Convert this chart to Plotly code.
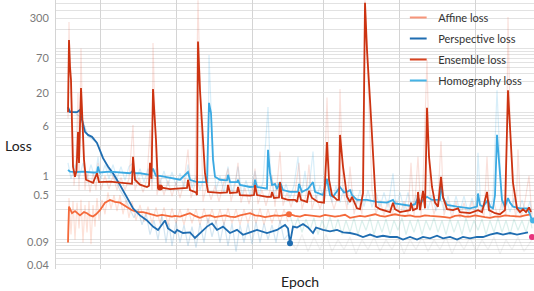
import plotly.graph_objects as go

# ---------------- data (x = training step, y = loss) ----------------
ENS_X = [12, 13, 14, 15, 17, 19, 20.5, 22, 23, 25, 26, 28, 30, 37, 41, 43, 54, 67, 76, 77, 79, 84, 91, 93, 94,
         95.5, 97, 98.5, 100, 102, 114, 131, 132, 134, 140, 141, 142, 144, 146, 149, 152, 164, 171, 172, 174, 181,
         182, 184, 194, 198, 199, 201, 211, 215, 216, 218, 223, 224, 226, 232, 239, 241, 243, 245, 251, 253, 256,
         262, 268, 271, 273, 276, 281, 283, 284, 287, 291, 294, 296, 301, 304, 306, 307, 309, 311, 314, 317, 320,
         324, 334, 337, 339, 344, 354, 355, 357, 361, 362, 364, 367, 369, 371, 373, 376, 379, 382, 385, 387, 391,
         397, 402, 404, 414, 422, 426, 431, 433, 439, 444, 449, 452, 454, 457, 461, 464, 467, 470, 473, 475]
ENS_Y = [10, 136, 52, 32, 1.4, 0.97, 1.2, 4.9, 1.6, 24, 10.9, 1.8, 0.87, 0.78, 1.1, 0.80, 0.81, 0.78, 0.75, 2.0,
         0.87, 0.73, 0.67, 0.7, 1.6, 0.9, 23, 9, 3.7, 0.67, 0.62, 0.65, 0.87, 0.6, 0.55, 0.5, 128, 22, 5.9, 1.1,
         0.56, 0.54, 0.55, 0.72, 0.54, 0.55, 0.67, 0.5, 0.49, 0.5, 0.72, 0.5, 0.47, 0.47, 0.56, 0.45, 0.46, 0.8,
         0.45, 0.42, 0.42, 0.39, 0.56, 0.42, 0.39, 0.58, 0.45, 0.39, 0.38, 3.4, 0.87, 0.5, 0.42, 0.42, 4.4, 1.4,
         0.47, 0.39, 0.47, 0.31, 0.3, 0.42, 0.53, 520, 95, 15.6, 1.8, 0.33, 0.3, 0.27, 0.38, 0.3, 0.27, 0.29, 0.38,
         0.29, 0.31, 0.56, 0.29, 0.58, 0.31, 11.7, 2.0, 0.67, 0.38, 0.33, 0.97, 0.47, 0.3, 0.29, 0.31, 0.27, 0.26,
         0.29, 0.27, 0.56, 0.29, 0.26, 0.25, 0.29, 22, 4.7, 0.78, 0.31, 0.27, 0.3, 0.27, 0.32, 0.27]

HOM_X = [12, 14, 21, 27, 37, 41, 42, 43.5, 54, 64, 74, 77, 79, 84, 94, 97, 100, 104, 114, 124, 132, 134, 141, 151,
         153, 155, 157, 159, 164, 171, 172, 174, 181, 182, 184, 194, 198, 199, 201, 211, 212, 214, 216, 219, 221,
         224, 227, 234, 242, 243, 246, 252, 257, 259, 267, 271, 274, 277, 284, 288, 291, 294, 296, 301, 311, 321,
         331, 337, 339, 344, 354, 359, 362, 365, 367, 371, 376, 384, 385, 387, 391, 401, 414, 421, 422, 424, 427,
         432, 434, 437, 439, 441, 443, 446, 449, 452, 454, 457, 464, 471, 474, 476]
HOM_Y = [1.24, 1.17, 1.15, 1.17, 1.13, 1.13, 1.4, 1.13, 1.17, 1.13, 1.1, 1.2, 1.1, 1.1, 1.04, 1.3, 1.0, 1.0, 0.93,
         0.87, 1.15, 0.87, 0.8, 0.8, 14, 9.7, 1.8, 0.97, 0.87, 0.85, 1.04, 0.8, 0.8, 0.87, 0.72, 0.67, 0.68, 0.87,
         0.67, 0.63, 2.56, 1.1, 0.72, 0.75, 0.62, 0.8, 0.6, 0.56, 0.56, 0.75, 0.56, 0.63, 0.8, 0.56, 0.5, 0.9, 0.5,
         0.47, 0.67, 0.55, 0.56, 0.6, 0.5, 0.42, 0.42, 0.39, 0.38, 0.42, 0.37, 0.36, 0.34, 0.36, 0.45, 0.38, 0.42,
         0.47, 0.42, 0.42, 0.8, 0.45, 0.35, 0.33, 0.31, 0.33, 0.53, 0.35, 0.33, 0.42, 0.33, 0.31, 0.5, 4.4, 1.8,
         0.42, 0.33, 0.45, 0.38, 0.33, 0.31, 0.31, 0.25, 0.2]

AFF_X = [12, 13, 16, 19, 24, 28, 31, 34, 37, 40, 44, 49, 54, 59, 64, 68, 71, 76, 82, 87, 91, 96, 101, 106, 111,
         116, 119, 124, 129, 134, 139, 144, 149, 154, 159, 164, 169, 174, 179, 184, 189, 194, 199, 204, 209, 214,
         219, 224, 229, 234, 239, 244, 249, 254, 259, 264, 269, 274, 279, 284, 289, 294, 299, 304, 309, 314, 319,
         324, 329, 334, 339, 344, 349, 354, 359, 364, 369, 374, 379, 384, 389, 394, 399, 404, 409, 414, 419, 424,
         429, 434, 439, 444, 449, 454, 459, 464, 469, 475]
AFF_Y = [0.09, 0.33, 0.26, 0.28, 0.24, 0.27, 0.26, 0.24, 0.23, 0.25, 0.29, 0.38, 0.42, 0.39, 0.38, 0.35, 0.33,
         0.29, 0.27, 0.27, 0.26, 0.25, 0.236, 0.245, 0.24, 0.23, 0.235, 0.23, 0.245, 0.26, 0.235, 0.22, 0.235,
         0.24, 0.225, 0.23, 0.24, 0.23, 0.225, 0.24, 0.25, 0.26, 0.24, 0.236, 0.225, 0.23, 0.24, 0.236, 0.245,
         0.25, 0.235, 0.23, 0.245, 0.24, 0.23, 0.23, 0.245, 0.24, 0.23, 0.236, 0.245, 0.22, 0.23, 0.235, 0.23,
         0.24, 0.25, 0.236, 0.23, 0.24, 0.25, 0.24, 0.235, 0.24, 0.23, 0.23, 0.24, 0.236, 0.23, 0.23, 0.225, 0.22,
         0.235, 0.24, 0.23, 0.23, 0.24, 0.23, 0.225, 0.22, 0.23, 0.23, 0.24, 0.235, 0.23, 0.23, 0.24, 0.25]

PER_X = [12, 14, 21, 24, 26, 29, 32, 36, 41, 44, 47, 52, 57, 64, 71, 77, 84, 91, 97, 102, 109, 112, 119, 121,
         127, 134, 139, 144, 151, 156, 161, 167, 174, 181, 187, 194, 201, 211, 221, 229, 232, 234, 237, 241, 247,
         252, 257, 260, 267, 274, 281, 287, 294, 301, 307, 314, 321, 327, 334, 341, 347, 354, 361, 367, 374, 381,
         387, 394, 401, 407, 414, 421, 427, 434, 441, 447, 454, 461, 467, 472]
PER_Y = [12, 10, 10, 10.9, 7.6, 4.9, 4.4, 4.1, 3.3, 2.56, 1.9, 1.4, 1.1, 0.72, 0.47, 0.31, 0.24, 0.2, 0.16, 0.142,
         0.2, 0.15, 0.127, 0.142, 0.127, 0.13, 0.106, 0.127, 0.16, 0.18, 0.142, 0.16, 0.127, 0.142, 0.119, 0.13,
         0.142, 0.127, 0.142, 0.17, 0.15, 0.088, 0.16, 0.155, 0.176, 0.155, 0.127, 0.155, 0.142, 0.135, 0.142,
         0.13, 0.127, 0.12, 0.11, 0.12, 0.11, 0.115, 0.11, 0.11, 0.1, 0.11, 0.1, 0.11, 0.105, 0.115, 0.105, 0.11,
         0.1, 0.11, 0.105, 0.11, 0.11, 0.12, 0.127, 0.12, 0.127, 0.12, 0.127, 0.13]

# raw (unsmoothed) values, drawn faintly behind the smoothed curves
ENS_RAW_X = [12, 13, 14, 16, 18, 20, 22, 23, 25, 27, 29, 31, 34, 37, 40, 42, 45, 49, 53, 57, 61, 65, 69, 73, 77,
             79, 83, 87, 91, 94, 96, 97, 99, 101, 104, 108, 112, 116, 120, 124, 128, 132, 135, 139, 142, 144, 147,
             151, 155, 159, 163, 167, 172, 175, 179, 182, 185, 189, 193, 197, 199, 202, 206, 210, 214, 216, 219,
             224, 227, 231, 235, 239, 243, 246, 250, 253, 256, 260, 264, 268, 271, 274, 278, 282, 284, 287, 291,
             294, 298, 302, 306, 309, 312, 316, 320, 324, 328, 332, 336, 340, 344, 348, 352, 355, 358, 362, 365,
             367, 371, 374, 378, 382, 385, 388, 392, 396, 400, 404, 408, 412, 416, 420, 424, 428, 431, 434, 438,
             442, 446, 450, 452, 454, 457, 460, 462, 465, 469, 473, 476]
ENS_RAW_Y = [8, 260, 40, 12, 0.7, 1.6, 20, 0.6, 100, 3, 0.6, 1.2, 0.55, 1.1, 0.6, 1.6, 0.6, 1.0, 0.62, 1.0, 0.6,
             0.95, 0.6, 0.9, 6.3, 0.6, 0.95, 0.55, 0.9, 5.3, 0.6, 122, 8, 0.5, 0.9, 0.5, 0.85, 0.48, 0.8, 0.45, 0.8,
             2.6, 0.45, 0.75, 570, 30, 0.4, 0.75, 0.42, 0.7, 0.4, 0.7, 1.3, 0.4, 0.7, 1.6, 0.38, 0.65, 0.36, 0.65,
             1.3, 0.36, 0.6, 0.34, 0.6, 1.0, 0.33, 2.4, 0.34, 0.55, 0.32, 0.55, 1.6, 0.3, 0.5, 1.5, 0.3, 0.5, 0.3,
             0.5, 17, 0.5, 0.3, 0.5, 23, 0.6, 0.3, 1.4, 0.25, 0.45, 0.25, 570, 40, 0.6, 0.25, 0.42, 0.24, 0.42,
             0.24, 0.42, 0.24, 0.4, 0.25, 1.6, 0.24, 2.0, 0.24, 0.8, 66, 0.5, 0.25, 0.42, 3.5, 0.24, 0.4, 0.22, 0.4,
             0.22, 0.38, 0.22, 0.4, 0.22, 0.38, 0.23, 2.0, 0.22, 0.38, 0.22, 0.4, 0.24, 310, 8, 0.4, 0.22, 2.6,
             0.22, 0.4, 1.0, 0.22]

HOM_RAW_X = [12, 15, 19, 23, 27, 31, 35, 39, 42, 45, 49, 53, 57, 61, 65, 69, 73, 77, 80, 84, 88, 92, 96, 100, 104,
             108, 112, 116, 120, 124, 128, 132, 136, 140, 144, 148, 152, 153, 155, 157, 160, 164, 168, 172, 176,
             180, 182, 186, 190, 194, 199, 203, 207, 212, 214, 218, 222, 226, 230, 234, 238, 242, 245, 249, 252,
             257, 260, 264, 268, 272, 276, 280, 284, 288, 292, 296, 300, 304, 308, 312, 316, 320, 324, 328, 332,
             337, 340, 344, 348, 352, 356, 360, 364, 368, 372, 376, 380, 384, 388, 392, 396, 400, 404, 408, 412,
             416, 420, 422, 425, 429, 433, 437, 441, 443, 446, 450, 454, 458, 462, 466, 470, 474, 476]
HOM_RAW_Y = [1.6, 0.9, 1.5, 0.9, 1.6, 0.9, 1.5, 0.9, 2.0, 0.9, 1.5, 0.9, 1.5, 0.9, 1.4, 0.85, 1.4, 1.6, 0.85,
             1.3, 0.8, 1.3, 0.8, 1.3, 0.75, 1.2, 0.7, 1.15, 0.7, 1.1, 0.65, 1.5, 0.65, 1.0, 0.6, 1.0, 0.6, 79, 12,
             2.5, 0.6, 1.0, 0.55, 1.4, 0.55, 0.9, 1.4, 0.5, 0.85, 0.5, 1.2, 0.5, 0.8, 12, 1.5, 0.5, 0.8, 0.45, 0.75,
             0.45, 0.7, 2.0, 0.42, 1.2, 0.45, 2.4, 0.42, 0.7, 0.4, 0.7, 0.38, 0.7, 0.38, 0.65, 0.35, 0.62, 0.34,
             0.6, 0.33, 0.6, 0.32, 0.55, 0.32, 0.55, 0.32, 1.1, 0.3, 0.55, 0.3, 0.55, 0.3, 0.5, 0.3, 0.5, 0.3, 0.5,
             0.28, 0.5, 0.28, 0.48, 0.27, 0.48, 0.28, 0.48, 0.27, 0.45, 0.28, 2.3, 0.28, 0.45, 0.27, 0.45, 22, 3,
             0.3, 0.45, 0.27, 0.45, 0.26, 0.42, 0.26, 0.4, 0.25]

PER_RAW_X = [12, 20, 26, 32, 40, 46, 52, 58, 64, 70, 74, 78, 82, 86, 90, 94, 98, 102, 106, 110, 113, 116, 120,
             124, 128, 132, 136, 140, 144, 148, 152, 156, 160, 164, 168, 172, 176, 180, 184, 188, 192, 196, 200,
             204, 208, 212, 216, 220, 224, 228, 232]
PER_RAW_Y = [11, 9.5, 8, 4.2, 3.4, 2.2, 1.3, 0.95, 0.6, 0.42, 0.3, 0.22, 0.3, 0.17, 0.26, 0.12, 0.2, 0.1, 0.24,
             0.09, 0.18, 0.08, 0.19, 0.09, 0.17, 0.08, 0.16, 0.075, 0.18, 0.09, 0.22, 0.11, 0.2, 0.09, 0.19, 0.08,
             0.18, 0.065, 0.17, 0.09, 0.18, 0.085, 0.19, 0.09, 0.18, 0.1, 0.17, 0.09, 0.2, 0.1, 0.12]

AFF_RAW_X = [12, 13, 15, 17, 19, 21, 23, 25, 27, 29, 31, 33, 35, 37, 39, 41, 43, 46, 49, 52, 55, 58, 61, 64, 67,
             70, 73, 76, 80, 84, 88, 92, 96, 100, 104, 108, 112, 116, 120, 124, 128, 132, 136, 140, 144, 148, 152,
             156, 160, 164, 168, 172, 176, 180, 184, 188, 192, 196, 200, 204, 208, 212, 216, 220, 224, 228, 232]
AFF_RAW_Y = [0.09, 0.45, 0.12, 0.4, 0.1, 0.38, 0.15, 0.42, 0.09, 0.35, 0.13, 0.4, 0.085, 0.35, 0.16, 0.45, 0.2,
             0.42, 0.25, 0.55, 0.3, 0.5, 0.28, 0.5, 0.25, 0.42, 0.22, 0.4, 0.2, 0.35, 0.19, 0.33, 0.18, 0.32, 0.18,
             0.32, 0.17, 0.31, 0.18, 0.3, 0.17, 0.31, 0.18, 0.3, 0.17, 0.31, 0.18, 0.3, 0.18, 0.3, 0.17, 0.31, 0.18,
             0.3, 0.17, 0.3, 0.18, 0.3, 0.18, 0.31, 0.17, 0.3, 0.18, 0.3, 0.18, 0.3, 0.19]

TEAL_RAW_X = [234, 238, 242, 246, 250, 254, 258, 262, 266, 270, 274, 278, 282, 286, 290, 294, 298, 302, 306, 310,
              314, 318, 322, 326, 330, 334, 338, 342, 346, 350, 354, 358, 362, 366, 370, 374, 378, 382, 386, 390,
              394, 398, 402, 406, 410, 414, 418, 422, 426, 430, 434, 438, 442, 446, 450, 454, 458, 462, 466, 470,
              474, 476]
TEAL_RAW_Y = [0.24, 0.15, 0.22, 0.13, 0.21, 0.14, 0.22, 0.12, 0.2, 0.14, 0.23, 0.13, 0.21, 0.12, 0.2, 0.13, 0.22,
              0.12, 0.2, 0.14, 0.22, 0.12, 0.2, 0.13, 0.21, 0.12, 0.2, 0.14, 0.22, 0.12, 0.2, 0.13, 0.21, 0.12, 0.2,
              0.14, 0.22, 0.13, 0.2, 0.12, 0.21, 0.13, 0.2, 0.12, 0.22, 0.13, 0.2, 0.14, 0.21, 0.12, 0.2, 0.13,
              0.22, 0.13, 0.2, 0.12, 0.21, 0.14, 0.2, 0.13, 0.22, 0.15]

GRAY_RAW_X = [234, 240, 246, 252, 258, 264, 270, 276, 282, 288, 294, 300, 306, 312, 318, 324, 330, 336, 342, 348,
              354, 360, 366, 372, 378, 384, 390, 396, 402, 408, 414, 420, 426, 432, 438, 444, 450, 456, 462, 468,
              476]
GRAY_RAW_Y = [0.1, 0.07, 0.12, 0.065, 0.11, 0.07, 0.12, 0.065, 0.1, 0.07, 0.11, 0.06, 0.1, 0.07, 0.11, 0.065, 0.1,
              0.07, 0.11, 0.06, 0.1, 0.07, 0.11, 0.065, 0.1, 0.07, 0.11, 0.06, 0.1, 0.07, 0.11, 0.065, 0.1, 0.07,
              0.11, 0.06, 0.1, 0.07, 0.11, 0.065, 0.1]

# run-end markers
MARK_X = [104, 233, 234, 476, 477]
MARK_Y = [0.66, 0.25, 0.088, 0.11, 0.2]
MARK_C = ["#cc3311", "#f4693a", "#1f6db1", "#e8337d", "#45b3e6"]

Y_TICKS = [0.04, 0.09, 0.5, 1, 6, 20, 70, 300]
Y_TICK_TEXT = ["0.04", "0.09", "0.5", "1", "6", "20", "70", "300"]
X_GRID = [44, 120.5, 196.5, 267, 343, 419.5]

SERIES = ["Affine loss", "Perspective loss", "Ensemble loss", "Homography loss"]
COLORS = ["#f4693a", "#1f6db1", "#cc3311", "#3aa9e2"]
LEGEND_COLORS = ["#f7957a", "#1f6db1", "#d9431f", "#45b3e6"]

# ---------------- figure ----------------
fig = go.Figure()

raw = [
    (GRAY_RAW_X, GRAY_RAW_Y, "rgba(150,150,150,0.13)"),
    (TEAL_RAW_X, TEAL_RAW_Y, "rgba(110,195,180,0.25)"),
    (AFF_RAW_X, AFF_RAW_Y, "rgba(244,105,58,0.2)"),
    (PER_RAW_X, PER_RAW_Y, "rgba(80,150,200,0.25)"),
    (HOM_RAW_X, HOM_RAW_Y, "rgba(58,169,226,0.2)"),
    (ENS_RAW_X, ENS_RAW_Y, "rgba(230,90,60,0.18)"),
]
for xs, ys, c in raw:
    fig.add_trace(go.Scatter(x=xs, y=ys, mode="lines", line=dict(color=c, width=1.2),
                             showlegend=False, hoverinfo="skip"))

main = [
    (AFF_X, AFF_Y, COLORS[0]),
    (PER_X, PER_Y, COLORS[1]),
    (HOM_X, HOM_Y, COLORS[3]),
    (ENS_X, ENS_Y, COLORS[2]),
]
for xs, ys, c in main:
    fig.add_trace(go.Scatter(x=xs, y=ys, mode="lines", line=dict(color=c, width=1.8),
                             showlegend=False))

fig.add_trace(go.Scatter(x=MARK_X, y=MARK_Y, mode="markers",
                         marker=dict(color=MARK_C, size=6), showlegend=False))

for name, c in zip(SERIES, LEGEND_COLORS):
    fig.add_trace(go.Scatter(x=[None], y=[None], mode="markers", name=name, legendgroup=name,
                             marker=dict(symbol="line-ew", size=12, line=dict(width=2, color=c))))

minor_vals = [m * 10 ** e for e in range(-2, 3) for m in range(1, 10)]

fig.update_layout(
    width=534, height=291,
    margin=dict(l=56, r=0, t=0, b=22),
    paper_bgcolor="white", plot_bgcolor="white",
    font=dict(family="Lato, 'Open Sans', sans-serif", color="#333"),
    showlegend=True,
    legend=dict(x=0.716, y=1 - 3 / 269, xanchor="left", yanchor="top", bgcolor="rgba(0,0,0,0)",
                font=dict(size=11, color="#333"), itemwidth=30, tracegroupgap=2),
    xaxis=dict(range=[0, 478], tickmode="array", tickvals=X_GRID, showticklabels=False,
               showgrid=True, gridcolor="#d4d4d4", gridwidth=1, zeroline=False, ticks=""),
    yaxis=dict(type="log", range=[-1.461, 2.76], tickmode="array", tickvals=Y_TICKS,
               ticktext=Y_TICK_TEXT, showgrid=True, gridcolor="#e2e2e2", gridwidth=1,
               tickfont=dict(size=11, color="#7a7a7a"), ticks="", ticklabelstandoff=4,
               showline=True, linecolor="#d4d4d4", linewidth=1, zeroline=False,
               minor=dict(tickmode="array", tickvals=minor_vals, showgrid=True,
                          gridcolor="#e2e2e2", gridwidth=1, ticks="")),
    shapes=[dict(type="rect", xref="paper", yref="paper", x0=0.709, x1=0.975, y0=0.68, y1=1.0,
                 fillcolor="white", line=dict(width=0), layer="between")],
    annotations=[
        dict(text="Loss", xref="paper", yref="paper", x=(3 - 56) / 478, y=1 - 145 / 269,
             xanchor="left", yanchor="middle", showarrow=False, font=dict(size=14, color="#222")),
        dict(text="Epoch", xref="paper", yref="paper", x=(299.5 - 56) / 478, y=(269 - 281.5) / 269,
             xanchor="center", yanchor="middle", showarrow=False, font=dict(size=14, color="#222")),
    ],
)

fig.write_html("out.html", config={"displayModeBar": False},
               post_script="document.body.style.margin='0';document.body.style.overflow='hidden';")
